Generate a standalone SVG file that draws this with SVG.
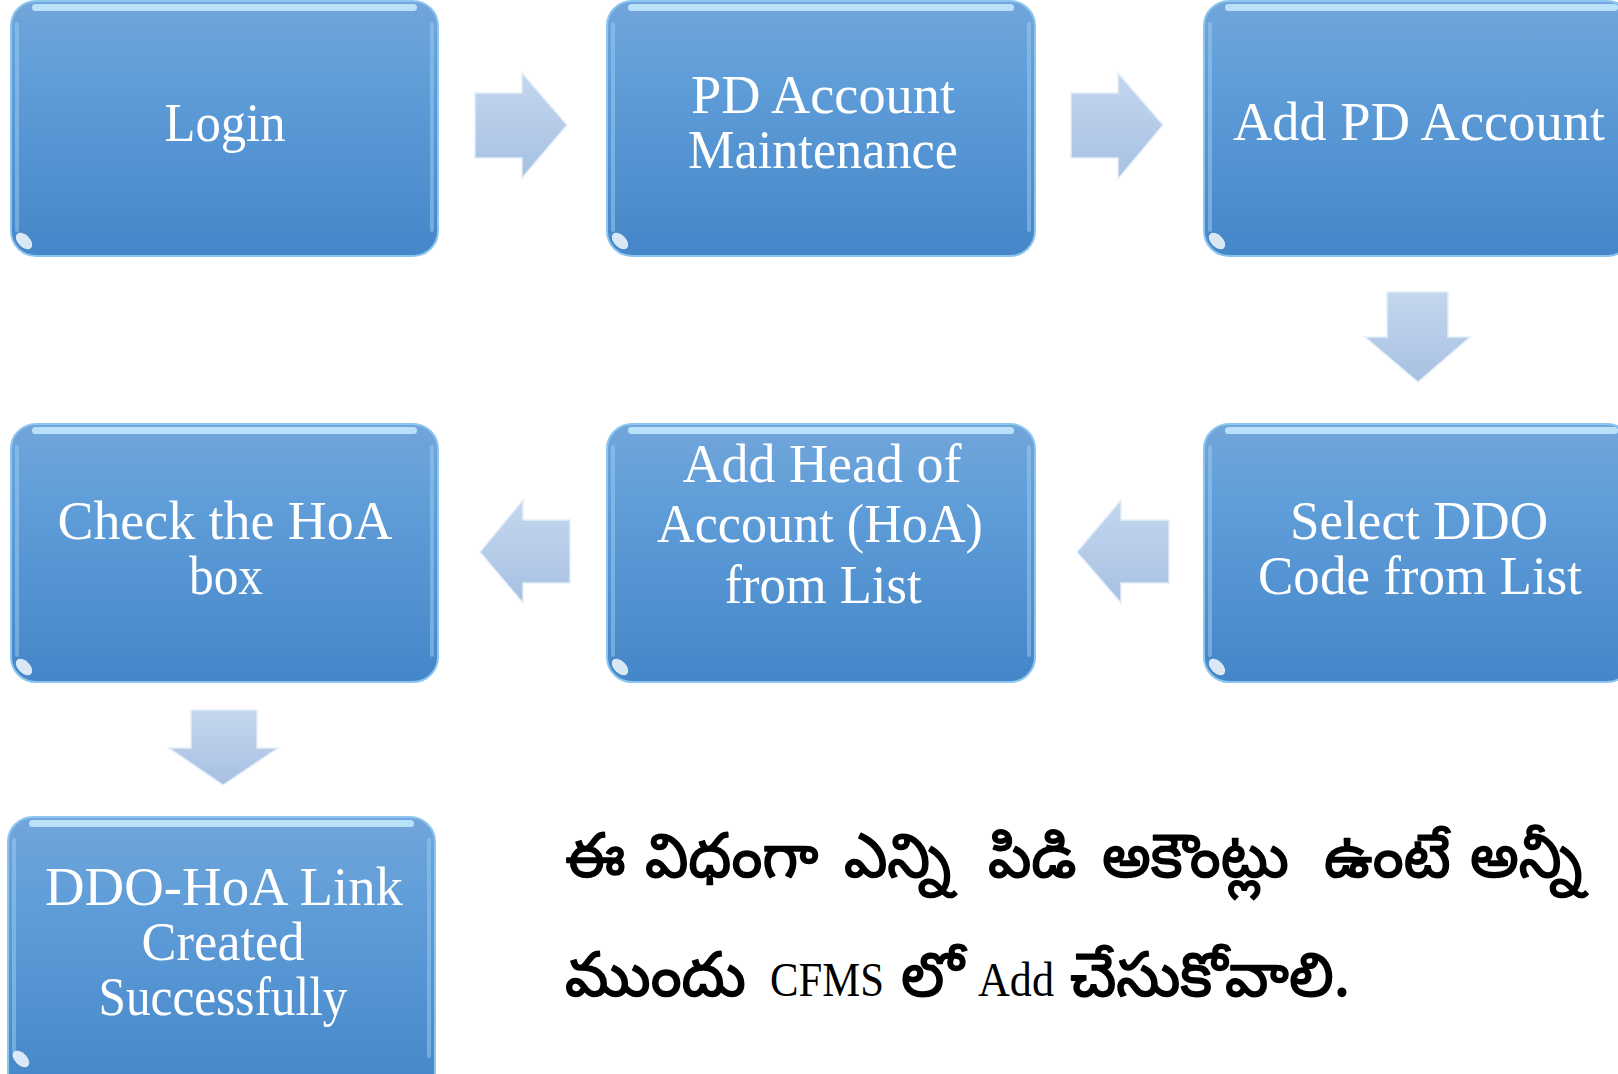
<svg xmlns="http://www.w3.org/2000/svg" width="1618" height="1074" viewBox="0 0 1618 1074">
<style>
.lbl{font-family:"Liberation Serif","Times New Roman",serif;font-size:54px;fill:#ffffff;text-anchor:middle}
.box{fill:url(#boxg);stroke:#8cc6f0;stroke-width:2}
.hl{fill:#c6ecff;opacity:0.85}
.side{fill:#9ccdf3;opacity:0.5}
.spot{fill:#ffffff;opacity:0.8}
.arr{fill:url(#arrg);stroke:#e4eef9;stroke-width:1.5;stroke-linejoin:miter}
.tel{font-family:"Noto Sans Telugu","Lohit Telugu","Gautami","Noto Serif Telugu","Pothana2000",sans-serif;font-size:61px;font-weight:normal;fill:#000000;stroke:#000000;stroke-width:1.5;stroke-linejoin:round}
.lat{font-family:"Liberation Serif","Times New Roman",serif;font-size:48px;fill:#000000}
</style>
<defs>
<linearGradient id="boxg" x1="0" y1="0" x2="0" y2="1">
<stop offset="0" stop-color="#72a5da"/>
<stop offset="0.3" stop-color="#609ed9"/>
<stop offset="1" stop-color="#4486c8"/>
</linearGradient>
<linearGradient id="arrg" x1="0" y1="0" x2="0" y2="1">
<stop offset="0" stop-color="#c4d7ee"/>
<stop offset="1" stop-color="#a7c0e2"/>
</linearGradient>
</defs>
<rect width="1618" height="1074" fill="#ffffff"/>

<g id="connectors">
<polygon class="arr" points="475,93 522,93 522,73 567,125 522,178 522,158 475,158"/>
<polygon class="arr" points="1071,93 1118,93 1118,73 1163,125 1118,179 1118,158 1071,158"/>
<polygon class="arr" points="1387,292 1448,292 1448,337 1470,337 1418,382 1365,337 1387,337"/>
<polygon class="arr" points="570,520 570,583 523,583 523,603 480,552 523,500 523,520"/>
<polygon class="arr" points="1169,520 1169,583 1121,583 1121,603 1077,552 1121,500 1121,520"/>
<polygon class="arr" points="191,710 257,710 257,748 278,748 223,785 169,748 191,748"/>
</g>

<g id="node-login">
<rect class="box" x="11" y="1" width="427" height="255" rx="25"/>
<rect class="hl" x="32" y="4" width="385" height="7" rx="3.5"/>
<rect class="side" x="15" y="22" width="4" height="210" rx="2"/>
<rect class="side" x="430" y="22" width="4" height="210" rx="2"/>
<ellipse class="spot" cx="24" cy="241" rx="10" ry="6" transform="rotate(45 24 241)"/>
<text class="lbl" x="225" y="141" textLength="121" lengthAdjust="spacingAndGlyphs">Login</text>
</g>

<g id="node-pd-maint">
<rect class="box" x="607" y="1" width="428" height="255" rx="25"/>
<rect class="hl" x="628" y="4" width="386" height="7" rx="3.5"/>
<rect class="side" x="611" y="22" width="4" height="210" rx="2"/>
<rect class="side" x="1027" y="22" width="4" height="210" rx="2"/>
<ellipse class="spot" cx="620" cy="241" rx="10" ry="6" transform="rotate(45 620 241)"/>
<text class="lbl" x="823" y="113" textLength="264" lengthAdjust="spacingAndGlyphs">PD Account</text>
<text class="lbl" x="823" y="168" textLength="270" lengthAdjust="spacingAndGlyphs">Maintenance</text>
</g>

<g id="node-add-pd">
<rect class="box" x="1204" y="1" width="428" height="255" rx="25"/>
<rect class="hl" x="1225" y="4" width="393" height="7" rx="3.5"/>
<rect class="side" x="1208" y="22" width="4" height="210" rx="2"/>
<ellipse class="spot" cx="1217" cy="241" rx="10" ry="6" transform="rotate(45 1217 241)"/>
<text class="lbl" x="1419" y="140" textLength="372" lengthAdjust="spacingAndGlyphs">Add PD Account</text>
</g>

<g id="node-select-ddo">
<rect class="box" x="1204" y="424" width="428" height="258" rx="25"/>
<rect class="hl" x="1225" y="427" width="393" height="7" rx="3.5"/>
<rect class="side" x="1208" y="445" width="4" height="212" rx="2"/>
<ellipse class="spot" cx="1217" cy="667" rx="10" ry="6" transform="rotate(45 1217 667)"/>
<text class="lbl" x="1419" y="539" textLength="258" lengthAdjust="spacingAndGlyphs">Select DDO</text>
<text class="lbl" x="1420" y="594" textLength="324" lengthAdjust="spacingAndGlyphs">Code from List</text>
</g>

<g id="node-add-hoa">
<rect class="box" x="607" y="424" width="428" height="258" rx="25"/>
<rect class="hl" x="628" y="427" width="386" height="7" rx="3.5"/>
<rect class="side" x="611" y="445" width="4" height="212" rx="2"/>
<rect class="side" x="1027" y="445" width="4" height="212" rx="2"/>
<ellipse class="spot" cx="620" cy="667" rx="10" ry="6" transform="rotate(45 620 667)"/>
<text class="lbl" x="822" y="482" textLength="279" lengthAdjust="spacingAndGlyphs">Add Head of</text>
<text class="lbl" x="820" y="542" textLength="326" lengthAdjust="spacingAndGlyphs">Account (HoA)</text>
<text class="lbl" x="823" y="603" textLength="197" lengthAdjust="spacingAndGlyphs">from List</text>
</g>

<g id="node-check-hoa">
<rect class="box" x="11" y="424" width="427" height="258" rx="25"/>
<rect class="hl" x="32" y="427" width="385" height="7" rx="3.5"/>
<rect class="side" x="15" y="445" width="4" height="212" rx="2"/>
<rect class="side" x="430" y="445" width="4" height="212" rx="2"/>
<ellipse class="spot" cx="24" cy="667" rx="10" ry="6" transform="rotate(45 24 667)"/>
<text class="lbl" x="225" y="539" textLength="335" lengthAdjust="spacingAndGlyphs">Check the HoA</text>
<text class="lbl" x="226" y="594" textLength="74" lengthAdjust="spacingAndGlyphs">box</text>
</g>

<g id="node-link-created">
<rect class="box" x="8" y="817" width="427" height="280" rx="25"/>
<rect class="hl" x="29" y="820" width="385" height="7" rx="3.5"/>
<rect class="side" x="12" y="838" width="4" height="220" rx="2"/>
<rect class="side" x="427" y="838" width="4" height="220" rx="2"/>
<ellipse class="spot" cx="21" cy="1059" rx="10" ry="6" transform="rotate(45 21 1059)"/>
<text class="lbl" x="224" y="905" textLength="358" lengthAdjust="spacingAndGlyphs">DDO-HoA Link</text>
<text class="lbl" x="223" y="960" textLength="163" lengthAdjust="spacingAndGlyphs">Created</text>
<text class="lbl" x="223" y="1015" textLength="249" lengthAdjust="spacingAndGlyphs">Successfully</text>
</g>

<g id="note">
<text class="tel" y="877"><tspan x="565">ఈ</tspan><tspan x="645">విధంగా</tspan><tspan x="844">ఎన్ని</tspan><tspan x="988">పిడి</tspan><tspan x="1102">అకౌంట్లు</tspan><tspan x="1324">ఉంటే</tspan><tspan x="1470">అన్నీ</tspan></text>
<text class="tel" x="565" y="996">ముందు</text>
<text class="lat" x="770" y="996" textLength="114" lengthAdjust="spacingAndGlyphs">CFMS</text>
<text class="tel" x="901" y="996">లో</text>
<text class="lat" x="978" y="996" textLength="76" lengthAdjust="spacingAndGlyphs">Add</text>
<text class="tel" x="1070" y="996">చేసుకోవాలి.</text>
</g>
</svg>
